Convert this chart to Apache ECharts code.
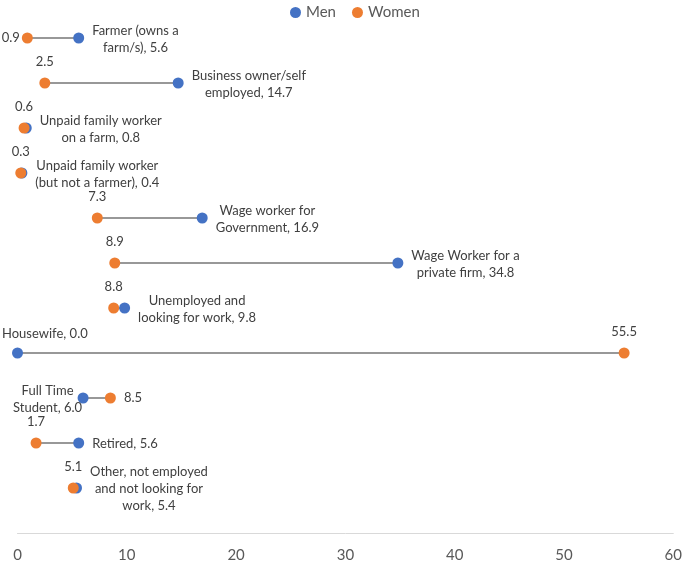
<!DOCTYPE html>
<html>
<head>
<meta charset="utf-8">
<script src="https://cdn.jsdelivr.net/npm/echarts@6/dist/echarts.min.js"></script>
<style>html,body{margin:0;padding:0;background:#fff}#c{width:685px;height:563px}</style>
</head>
<body>
<div id="c"></div>
<script>
// ---- data ----
const categories = [
  'Farmer (owns a\nfarm/s)',
  'Business owner/self\nemployed',
  'Unpaid family worker\non a farm',
  'Unpaid family worker\n(but not a farmer)',
  'Wage worker for\nGovernment',
  'Wage Worker for a\nprivate firm',
  'Unemployed and\nlooking for work',
  'Housewife',
  'Full Time\nStudent',
  'Retired',
  'Other, not employed\nand not looking for\nwork'
];
const men   = [5.6, 14.7, 0.8, 0.4, 16.9, 34.8, 9.8, 0.0, 6.0, 5.6, 5.4];
const women = [0.9, 2.5, 0.6, 0.3, 7.3, 8.9, 8.8, 55.5, 8.5, 1.7, 5.1];
const xTicks = [0, 10, 20, 30, 40, 50, 60];

// ---- label placement (style) ----
const menPlace   = ['right','right','right','right','right','right','right','topShift','left','right','right'];
const womenPlace = ['left','top','top','top','top','top','top','top','right','top','top'];

const FONT = 'Lato';
const LFS = 13;
const cv = document.createElement('canvas').getContext('2d');
function textW(s){ cv.font = LFS + 'px ' + FONT; return Math.max.apply(null, s.split('\n').map(t => cv.measureText(t).width)); }

const baseLabel = {show:true, color:'#404040', fontFamily:FONT, fontSize:LFS, lineHeight:17};

const menData = men.map((v, i) => {
  const txt = categories[i] + ', ' + v.toFixed(1);
  const w = textW(txt);
  let lab;
  const p = menPlace[i];
  if (p === 'right') lab = {position:'right', distance:8, align:'center', offset:[w/2, 1]};
  else if (p === 'left') lab = {position:'left', distance:0, align:'center', offset:[-w/2 + 4.5, 1]};
  else lab = {position:'top', distance:5, align:'center', offset:[w/2 - 15.5, 0]};
  return {value:[v, i], label:Object.assign({}, baseLabel, lab, {formatter: txt})};
});
const womenData = women.map((v, i) => {
  const p = womenPlace[i];
  let lab;
  if (p === 'top') lab = {position:'top', distance:7};
  else if (p === 'left') lab = {position:'left', distance:2};
  else lab = {position:'right', distance:8};
  return {value:[v, i], label:Object.assign({}, baseLabel, lab, {formatter: v.toFixed(1)})};
});

const chart = echarts.init(document.getElementById('c'));
chart.setOption({
  animation:false,
  textStyle:{fontFamily:FONT},
  legend:{
    top:0, left:285, itemGap:16, icon:'circle', itemWidth:11, itemHeight:11,
    textStyle:{color:'#595959', fontSize:15, fontFamily:FONT},
    data:['Men','Women']
  },
  grid:{left:17.5, right:9, top:15.5, bottom:51.5},
  xAxis:{
    type:'value', min:xTicks[0], max:xTicks[xTicks.length-1], interval:10, offset:22.5,
    axisLine:{show:true, lineStyle:{color:'#d9d9d9', width:1}},
    axisTick:{show:false}, splitLine:{show:false},
    axisLabel:{color:'#595959', fontSize:15, fontFamily:FONT, margin:15}
  },
  yAxis:{type:'category', data:categories, inverse:true, show:false},
  series:[
    {
      type:'custom', silent:true,
      renderItem:function(params, api){
        const a = api.coord([api.value(0), api.value(2)]);
        const b = api.coord([api.value(1), api.value(2)]);
        return {type:'line', shape:{x1:a[0], y1:a[1], x2:b[0], y2:b[1]}, style:{stroke:'#767676', lineWidth:1.5}};
      },
      encode:{x:[0,1], y:2},
      data: categories.map((c, i) => [men[i], women[i], i])
    },
    {name:'Men', type:'scatter', symbolSize:11, itemStyle:{color:'#4472C4', opacity:1}, data:menData},
    {name:'Women', type:'scatter', symbolSize:11, itemStyle:{color:'#ED7D31', opacity:1}, data:womenData}
  ]
});
</script>
</body>
</html>
